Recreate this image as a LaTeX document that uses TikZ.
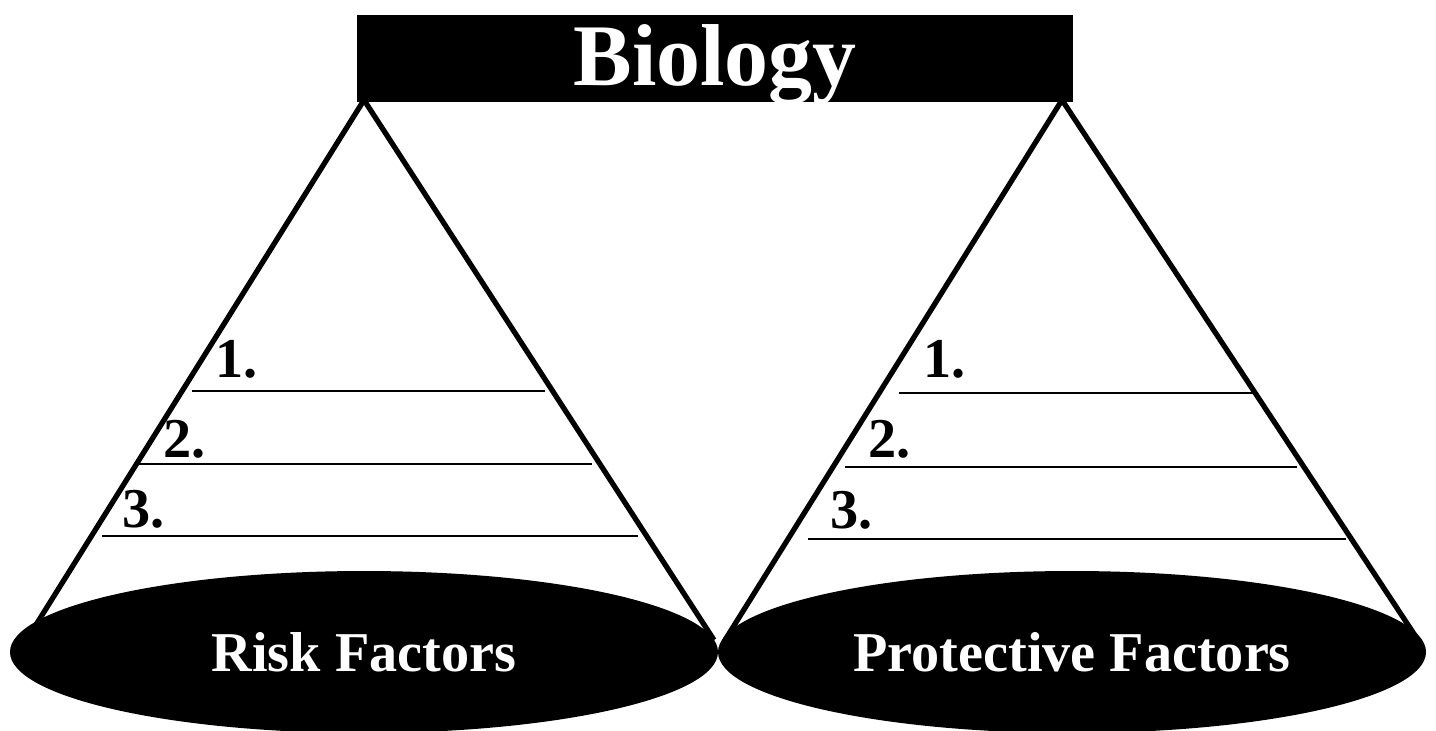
\documentclass[tikz,border=0pt]{standalone}
\usepackage{fontspec}
\setmainfont{Liberation Serif}
\usetikzlibrary{shapes.geometric}

\begin{document}
\begin{tikzpicture}[x=1cm, y=-1cm, line join=round,
    leg/.style={line width=1.5pt},
    rule/.style={line width=0.75pt},
    base/.style={ellipse, fill=black, text=white, inner sep=0pt,
      minimum width=7.08cm, minimum height=1.62cm,
      font=\fontsize{16}{16}\selectfont\bfseries},
    num/.style={anchor=base west, inner sep=0pt,
      font=\fontsize{16}{16}\selectfont\bfseries}]
      \useasboundingbox (0,0) rectangle (14.36,7.30);

      \node[fill=black, text=white, inner sep=0pt, minimum width=7.16cm,
        minimum height=0.87cm, text height=0.53cm, text depth=0pt,
        font=\fontsize{25}{25}\selectfont\bfseries] (bio) at (7.15,0.585) {Biology};

      \coordinate (A1) at (3.64,1.00);
      \coordinate (A2) at (10.62,1.00);
      \coordinate (F1) at (0.265,6.40);
      \coordinate (F2) at (7.14,6.40);
      \coordinate (F3) at (7.25,6.40);
      \coordinate (F4) at (14.18,6.40);

      \draw[leg] (F1) -- (A1) -- (F2);
      \draw[leg] (F3) -- (A2) -- (F4);

      % blanks, risk side
      \draw[rule] (1.92,3.91) -- (5.45,3.91);
      \draw[rule] (1.37,4.64) -- (5.92,4.64);
      \draw[rule] (1.02,5.36) -- (6.38,5.36);
      \node[num] (r1) at (2.15,3.77) {1.};
      \node[num] (r2) at (1.63,4.57) {2.};
      \node[num] (r3) at (1.22,5.27) {3.};

      % blanks, protective side
      \draw[rule] (8.99,3.93) -- (12.54,3.93);
      \draw[rule] (8.45,4.67) -- (12.97,4.67);
      \draw[rule] (8.08,5.39) -- (13.46,5.39);
      \node[num] (p1) at (9.23,3.77) {1.};
      \node[num] (p2) at (8.68,4.57) {2.};
      \node[num] (p3) at (8.30,5.28) {3.};

      \node[base] (risk) at (3.64,6.52) {Risk Factors};
      \node[base] (prot) at (10.72,6.52) {Protective Factors};
    \end{tikzpicture}
\end{document}
